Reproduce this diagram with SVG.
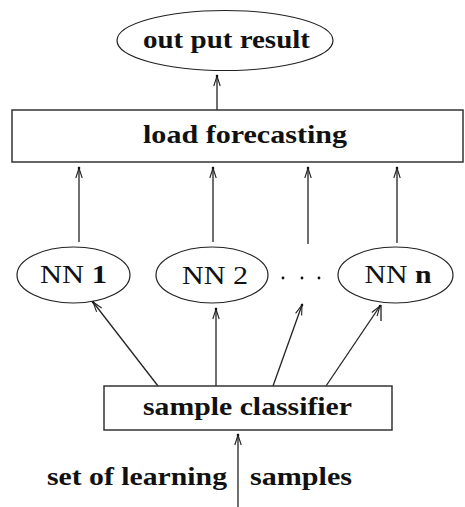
<svg xmlns="http://www.w3.org/2000/svg" width="465" height="507" viewBox="0 0 465 507">
  <style>
    .lbl { font-family: "Liberation Serif", "Times New Roman", serif; font-size: 26px; fill: #111; font-weight: bold; }
    .reg { font-weight: normal; }
    .box { fill: #fff; stroke: #333; stroke-width: 1.5; }
    .oval { fill: #fff; stroke: #222; stroke-width: 1.2; }
    .link { fill: none; stroke: #222; stroke-width: 1.3; marker-end: url(#vhead); }
    .plain { fill: none; stroke: #222; stroke-width: 1.3; }
  </style>
  <defs>
    <!-- thin open V arrowhead with a dot at the tip -->
    <marker id="vhead" markerUnits="userSpaceOnUse" viewBox="-12 -6 14 12" refX="0" refY="0" markerWidth="14" markerHeight="12" orient="auto" overflow="visible">
      <path d="M-10,-3.2 L0,0 L-10,3.2" fill="none" stroke="#222" stroke-width="1.1"/>
      <circle cx="0" cy="0" r="1.3" fill="#111"/>
    </marker>
  </defs>
  <rect width="465" height="507" fill="#fff"/>

  <g id="connectors">
    <line class="link" x1="217" y1="110" x2="217" y2="76"/>
    <line class="link" x1="79" y1="242" x2="79" y2="168"/>
    <line class="link" x1="213" y1="242" x2="213" y2="168"/>
    <line class="link" x1="308" y1="244" x2="308" y2="168"/>
    <line class="link" x1="397" y1="243" x2="397" y2="168"/>
    <line class="link" x1="158" y1="386" x2="93" y2="302"/>
    <line class="link" x1="216" y1="386" x2="216" y2="309"/>
    <line class="link" x1="273" y1="386" x2="302" y2="305"/>
    <line class="link" x1="326" y1="386" x2="380" y2="306"/>
    <line class="plain" x1="381" y1="305" x2="381" y2="321"/>
    <line class="link" x1="238" y1="507" x2="238" y2="435"/>
  </g>

  <g id="output">
    <ellipse class="oval" cx="225" cy="40.5" rx="108" ry="30"/>
    <text class="lbl" x="226.5" y="48" text-anchor="middle" textLength="167" lengthAdjust="spacingAndGlyphs">out put result</text>
  </g>

  <g id="forecasting">
    <rect class="box" x="12" y="110" width="451" height="52"/>
    <text class="lbl" x="245" y="143" text-anchor="middle" textLength="204" lengthAdjust="spacingAndGlyphs">load forecasting</text>
  </g>

  <g id="nn1">
    <ellipse class="oval" cx="73.5" cy="275" rx="56.5" ry="28"/>
    <text class="lbl" x="73.5" y="283" text-anchor="middle" textLength="67" lengthAdjust="spacingAndGlyphs"><tspan class="reg">NN </tspan>1</text>
  </g>

  <g id="nn2">
    <ellipse class="oval" cx="212" cy="275" rx="56" ry="28"/>
    <text class="lbl" x="215" y="284" text-anchor="middle" textLength="66" lengthAdjust="spacingAndGlyphs"><tspan class="reg">NN 2</tspan></text>
  </g>

  <g id="ellipsis">
    <circle cx="283" cy="278" r="1.4" fill="#111"/>
    <circle cx="302" cy="278" r="1.4" fill="#111"/>
    <circle cx="319" cy="278" r="1.4" fill="#111"/>
  </g>

  <g id="nnn">
    <ellipse class="oval" cx="395.5" cy="275" rx="57.5" ry="28"/>
    <text class="lbl" x="398" y="283" text-anchor="middle" textLength="67" lengthAdjust="spacingAndGlyphs"><tspan class="reg">NN </tspan>n</text>
  </g>

  <g id="classifier">
    <rect class="box" x="104" y="386" width="288" height="44"/>
    <text class="lbl" x="247.5" y="415" text-anchor="middle" textLength="209" lengthAdjust="spacingAndGlyphs">sample classifier</text>
  </g>

  <g id="input-label">
    <text class="lbl" x="47" y="485" textLength="180" lengthAdjust="spacingAndGlyphs">set of learning</text>
    <text class="lbl" x="250" y="485" textLength="102" lengthAdjust="spacingAndGlyphs">samples</text>
  </g>
</svg>
